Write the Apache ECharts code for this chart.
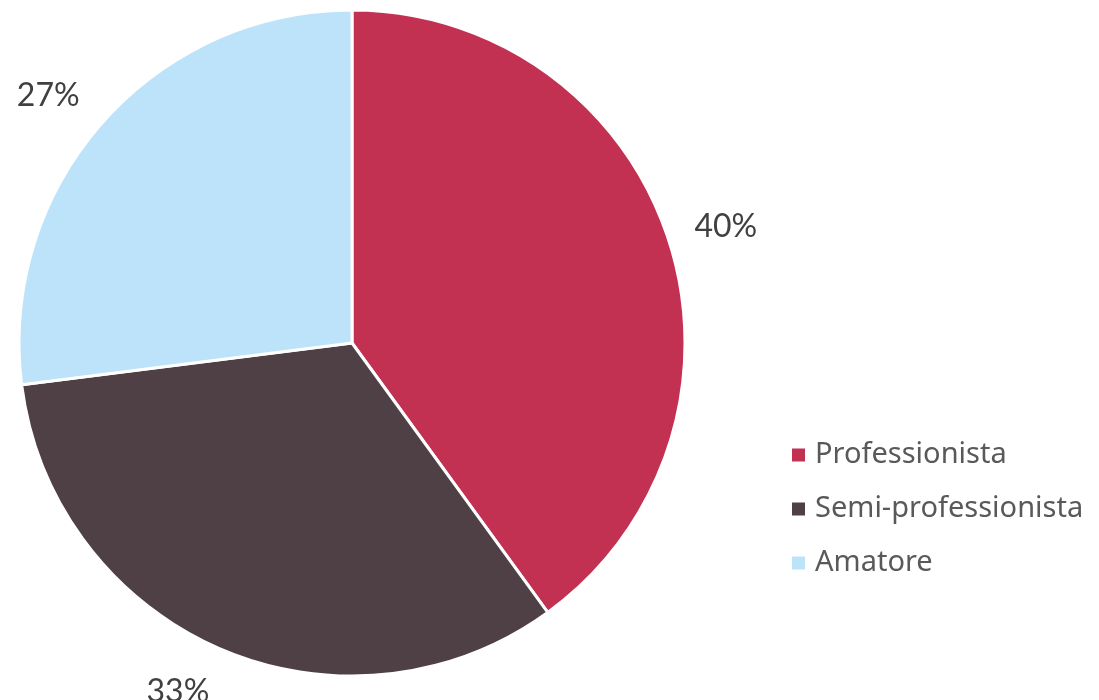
<!DOCTYPE html>
<html>
<head>
<meta charset="utf-8">
<script src="https://cdn.jsdelivr.net/npm/echarts@6/dist/echarts.min.js"></script>
<style>
  html, body { margin: 0; padding: 0; background: #fff; }
  #chart { width: 1099px; height: 700px; }
</style>
</head>
<body>
<div id="chart"></div>
<script>
const categories = ["Professionista", "Semi-professionista", "Amatore"];
const values = [40, 33, 27];
const colors = ["#C23152", "#4F4045", "#BDE3FA"];
// small nudges so the percent labels sit where the original put them
const labelNudge = [[0, 5], [-18, -12], [-9, 13]];

const pieData = categories.map((name, i) => ({
  name: name,
  value: values[i],
  itemStyle: { color: colors[i] },
}));

const chart = echarts.init(document.getElementById("chart"));
chart.setOption({
  animation: false,
  legend: {
    orient: "vertical",
    left: 792,
    top: 440,
    padding: 0,
    icon: "rect",
    itemWidth: 13,
    itemHeight: 13,
    itemGap: 24,
    itemStyle: { borderWidth: 0 },
    textStyle: {
      fontFamily: "Noto Sans",
      fontSize: 29,
      lineHeight: 30,
      color: "#595959",
      padding: [0, 0, 0, 5],
    },
    data: categories,
  },
  series: [
    {
      // the pie itself
      type: "pie",
      center: [352, 343],
      radius: 333,
      startAngle: 90,
      clockwise: true,
      itemStyle: { borderColor: "#fff", borderWidth: 3 },
      label: { show: false },
      labelLine: { show: false },
      data: pieData,
    },
    {
      // invisible ring just carries the percent labels outside the pie
      type: "pie",
      center: [352, 343],
      radius: [386, 394],
      startAngle: 90,
      clockwise: true,
      silent: true,
      itemStyle: { color: "rgba(0,0,0,0)" },
      label: {
        show: true,
        position: "inside",
        formatter: "{c}%",
        fontFamily: "Lato",
        fontSize: 32,
        color: "#404040",
      },
      labelLine: { show: false },
      data: categories.map((name, i) => ({
        name: name,
        value: values[i],
        label: { offset: labelNudge[i] },
      })),
    },
  ],
});
</script>
</body>
</html>
